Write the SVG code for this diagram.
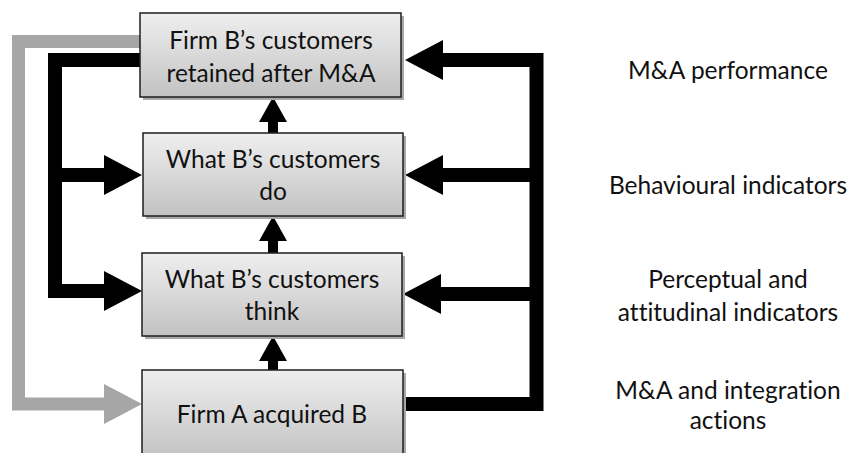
<svg xmlns="http://www.w3.org/2000/svg" width="852" height="453" viewBox="0 0 852 453">
  <style>
    .box { fill: url(#boxFill); stroke: #1e1e1e; stroke-width: 1.5; }
    .shadow { fill: #a8a8a8; }
    .txt { font-family: Lato, "Open Sans", "Liberation Sans", sans-serif; fill: #111; text-anchor: middle; font-variant-ligatures: none; }
    .node { font-size: 24.5px; }
    .side { font-size: 24.5px; }
    .black { fill: none; stroke: #000; stroke-width: 14; stroke-linejoin: miter; }
    .grey { fill: none; stroke: #a6a6a6; stroke-width: 13; stroke-linejoin: miter; }
    .up { fill: none; stroke: #000; stroke-width: 10; }
  </style>
  <defs>
    <linearGradient id="boxFill" x1="0" y1="0" x2="0" y2="1">
      <stop offset="0" stop-color="#efefef"/>
      <stop offset="1" stop-color="#c2c2c2"/>
    </linearGradient>
    <marker id="headBlack" markerUnits="userSpaceOnUse" viewBox="0 0 38 40" markerWidth="38" markerHeight="40" refX="0" refY="20" orient="auto">
      <path d="M0,0 L38,20 L0,40 Z" fill="#000"/>
    </marker>
    <marker id="headGrey" markerUnits="userSpaceOnUse" viewBox="0 0 38 40" markerWidth="38" markerHeight="40" refX="0" refY="20" orient="auto">
      <path d="M0,0 L38,20 L0,40 Z" fill="#a6a6a6"/>
    </marker>
    <marker id="headUp" markerUnits="userSpaceOnUse" viewBox="0 0 25 28" markerWidth="25" markerHeight="28" refX="0" refY="14" orient="auto">
      <path d="M0,0 L25,14 L0,28 Z" fill="#000"/>
    </marker>
  </defs>

  <g id="connectors">
    <!-- grey feedback loop from retained customers back to the acquisition -->
    <path class="grey" d="M141,41.5 H18.5 V404 H104" marker-end="url(#headGrey)"/>
    <!-- left black feedback -->
    <path class="black" d="M141,60 H55 V291 H104" marker-end="url(#headBlack)"/>
    <path class="black" d="M55,175 H104" marker-end="url(#headBlack)"/>
    <!-- right black feed from the acquisition -->
    <path class="black" d="M403,404 H536.5 V60 H443" marker-end="url(#headBlack)"/>
    <path class="black" d="M536.5,175 H443" marker-end="url(#headBlack)"/>
    <path class="black" d="M536.5,294 H441" marker-end="url(#headBlack)"/>
    <!-- upward chain -->
    <path class="up" d="M273,134 V122" marker-end="url(#headUp)"/>
    <path class="up" d="M273,254 V241" marker-end="url(#headUp)"/>
    <path class="up" d="M273,371 V361" marker-end="url(#headUp)"/>
  </g>

  <g id="retained">
    <rect class="shadow" x="143" y="16" width="261" height="84"/>
    <rect class="box" x="140" y="13" width="261" height="84"/>
    <text class="txt node" x="271" y="49">Firm B’s customers</text>
    <text class="txt node" x="271" y="82">retained after M&amp;A</text>
  </g>

  <g id="do">
    <rect class="shadow" x="146" y="136" width="260" height="83"/>
    <rect class="box" x="143" y="133" width="260" height="83"/>
    <text class="txt node" x="273" y="168">What B’s customers</text>
    <text class="txt node" x="273" y="200">do</text>
  </g>

  <g id="think">
    <rect class="shadow" x="145" y="256" width="260" height="83"/>
    <rect class="box" x="142" y="253" width="260" height="83"/>
    <text class="txt node" x="272" y="288">What B’s customers</text>
    <text class="txt node" x="272" y="320">think</text>
  </g>

  <g id="acquired">
    <rect class="shadow" x="145" y="373" width="261" height="90"/>
    <rect class="box" x="142" y="370" width="261" height="90"/>
    <text class="txt node" x="272" y="423">Firm A acquired B</text>
  </g>

  <g id="levels">
    <text class="txt side" x="728" y="79">M&amp;A performance</text>
    <text class="txt side" x="728" y="194">Behavioural indicators</text>
    <text class="txt side" x="728" y="288">Perceptual and</text>
    <text class="txt side" x="728" y="321">attitudinal indicators</text>
    <text class="txt side" x="728" y="399">M&amp;A and integration</text>
    <text class="txt side" x="728" y="429">actions</text>
  </g>
</svg>
